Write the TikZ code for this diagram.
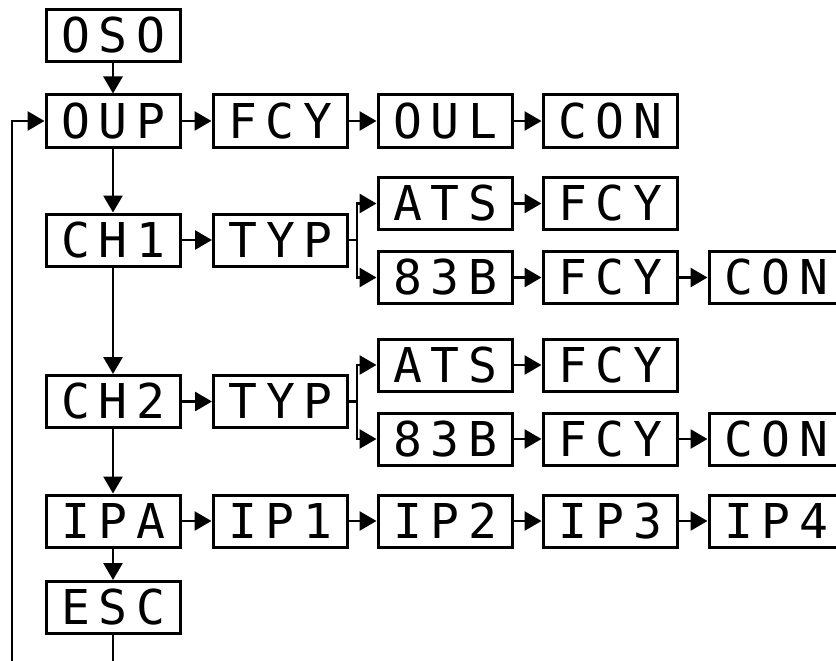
\documentclass[tikz,border=0pt]{standalone}
\usepackage{fontspec}
\newfontfamily\segfont[LetterSpace=18]{DejaVu Sans Mono}
\usetikzlibrary{arrows.meta}
\begin{document}
\begin{tikzpicture}[x=1pt,y=-1pt,
  box/.style={draw, line width=3pt, minimum width=134pt, minimum height=52pt,
    inner sep=0pt, font=\segfont\fontsize{48}{48}\selectfont},
  conn/.style={line width=2.8pt},
  arr/.style={conn, -{Triangle[length=17pt,width=19pt]}}]
\useasboundingbox (0,0) rectangle (836,661);
\clip (0,0) rectangle (836,661);
% column 1
\node[box] (oso) at (113,35.5) {OSO};
\node[box] (oup) at (113,121) {OUP};
\node[box] (ch1) at (113,240) {CH1};
\node[box] (ch2) at (113,401.5) {CH2};
\node[box] (ipa) at (113,521) {IPA};
\node[box] (esc) at (113,607.5) {ESC};
% row OUP
\node[box] (fcy1) at (280,121) {FCY};
\node[box] (oul) at (445,121) {OUL};
\node[box] (con1) at (610,121) {CON};
% CH1 group
\node[box] (typ1) at (280.5,240) {TYP};
\node[box] (ats1) at (445,203.5) {ATS};
\node[box] (fcya1) at (610,203.5) {FCY};
\node[box] (b1) at (445,277.5) {83B};
\node[box] (fcyb1) at (610,277.5) {FCY};
\node[box] (conb1) at (776,277.5) {CON};
% CH2 group
\node[box] (typ2) at (280.5,401.5) {TYP};
\node[box] (ats2) at (445,365) {ATS};
\node[box] (fcya2) at (610,365) {FCY};
\node[box] (b2) at (445,439) {83B};
\node[box] (fcyb2) at (610,439) {FCY};
\node[box] (conb2) at (776,439) {CON};
% IP row
\node[box] (ip1) at (280,521) {IP1};
\node[box] (ip2) at (445,521) {IP2};
\node[box] (ip3) at (610,521) {IP3};
\node[box] (ip4) at (776,521) {IP4};
% coordinates
\coordinate (loopstart) at (12,670);
\coordinate (escend) at (113,670);
\coordinate (br1) at (357,240);
\coordinate (br2) at (357,401.5);
% vertical chain
\draw[arr] (oso) -- (oup);
\draw[arr] (oup) -- (ch1);
\draw[arr] (ch1) -- (ch2);
\draw[arr] (ch2) -- (ipa);
\draw[arr] (ipa) -- (esc);
\draw[conn] (esc.south) -- (escend);
\draw[arr] (loopstart) |- (oup.west);
% horizontal
\draw[arr] (oup) -- (fcy1);
\draw[arr] (fcy1) -- (oul);
\draw[arr] (oul) -- (con1);
\draw[arr] (ch1) -- (typ1);
\draw[conn] (typ1.east) -- (br1);
\draw[arr] (br1) |- (ats1.west);
\draw[arr] (br1) |- (b1.west);
\draw[arr] (ats1) -- (fcya1);
\draw[arr] (b1) -- (fcyb1);
\draw[arr] (fcyb1) -- (conb1);
\draw[arr] (ch2) -- (typ2);
\draw[conn] (typ2.east) -- (br2);
\draw[arr] (br2) |- (ats2.west);
\draw[arr] (br2) |- (b2.west);
\draw[arr] (ats2) -- (fcya2);
\draw[arr] (b2) -- (fcyb2);
\draw[arr] (fcyb2) -- (conb2);
\draw[arr] (ipa) -- (ip1);
\draw[arr] (ip1) -- (ip2);
\draw[arr] (ip2) -- (ip3);
\draw[arr] (ip3) -- (ip4);
\end{tikzpicture}
\end{document}
